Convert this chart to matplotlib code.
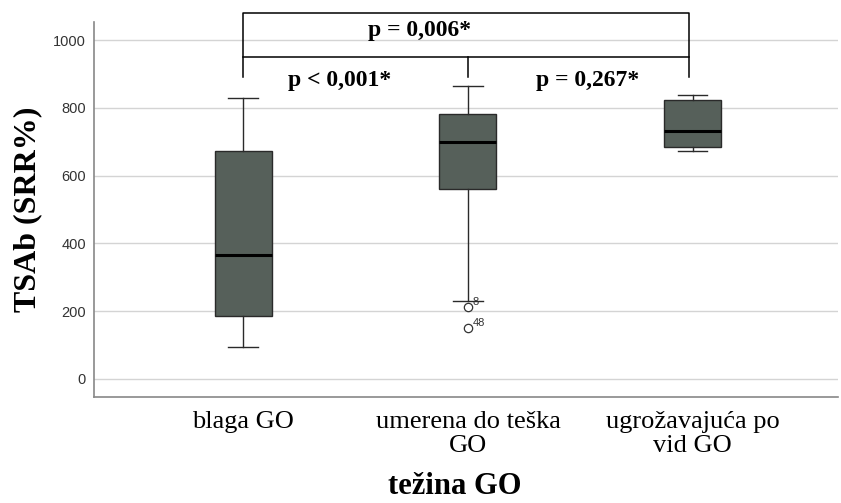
import matplotlib.pyplot as plt

# group labels and box statistics
groups = ['blaga GO', 'umerena do teška\nGO', 'ugrožavajuća po\nvid GO']
whislo = [94, 230, 672]
q1 = [186, 560, 684]
median = [366, 699, 731]
q3 = [672, 782, 823]
whishi = [829, 864, 838]
outliers = [[], [212, 150], []]
outlier_ids = [[], ['8', '48'], []]

# significance brackets
p_texts = ['p < 0,001*', 'p = 0,267*', 'p = 0,006*']

plt.rcParams['font.family'] = ['Liberation Serif', 'DejaVu Serif']

fig = plt.figure(figsize=(8.41, 5.03), dpi=100)
ax = fig.add_axes([0.112, 0.211, 0.884, 0.745])

pos = [1, 2, 3]
stats = []
for i in range(3):
    stats.append({'whislo': whislo[i], 'q1': q1[i], 'med': median[i],
                  'q3': q3[i], 'whishi': whishi[i], 'fliers': outliers[i]})

ax.bxp(stats, positions=pos, widths=0.253, capwidths=0.13, patch_artist=True,
       boxprops=dict(facecolor='#56605a', edgecolor='#2a2a2a', linewidth=1),
       medianprops=dict(color='black', linewidth=2.2),
       whiskerprops=dict(color='#2a2a2a', linewidth=1),
       capprops=dict(color='#2a2a2a', linewidth=1),
       flierprops=dict(marker='o', markersize=6, markerfacecolor='white',
                       markeredgecolor='#333333', markeredgewidth=0.9))

for i in range(3):
    for v, lab in zip(outliers[i], outlier_ids[i]):
        ax.text(pos[i] + 0.02, v + 16, lab, fontsize=8, family='Liberation Sans',
                color='#333333', ha='left', va='center')

ax.set_xlim(0.338, 3.644)
ax.set_ylim(-53, 1053)
ax.set_yticks([0, 200, 400, 600, 800, 1000])
ax.yaxis.grid(True, color='#d4d4d4', linewidth=1)
ax.set_axisbelow(True)
ax.tick_params(axis='y', length=0, pad=6, labelsize=10.5, labelcolor='#333333')
for t in ax.get_yticklabels():
    t.set_family('Liberation Sans')
ax.tick_params(axis='x', length=0, pad=10, labelsize=19)
ax.set_xticks(pos)
ax.set_xticklabels(groups, linespacing=1.12)

for s in ['top', 'right']:
    ax.spines[s].set_visible(False)
for s in ['left', 'bottom']:
    ax.spines[s].set_color('#888888')
    ax.spines[s].set_linewidth(1.2)

ax.set_ylabel('TSAb (SRR%)', fontsize=23, fontweight='bold', labelpad=8)
ax.set_xlabel('težina GO', fontsize=22, fontweight='bold', va='center')
ax.xaxis.set_label_coords(0.485, -0.238)

# brackets
lw = 1.1
ax.plot([1, 1, 2.982, 2.982], [891, 1080, 1080, 891], color='black', lw=lw, clip_on=False)
ax.plot([1, 2.982], [950, 950], color='black', lw=lw, clip_on=False)
ax.plot([2, 2], [950, 891], color='black', lw=lw, clip_on=False)
ax.text(1.431, 882, p_texts[0], fontsize=17, fontweight='bold', ha='center', va='center')
ax.text(2.533, 882, p_texts[1], fontsize=17, fontweight='bold', ha='center', va='center')
ax.text(1.787, 1027, p_texts[2], fontsize=17, fontweight='bold', ha='center', va='center')

fig.savefig('out.png', dpi=100)
